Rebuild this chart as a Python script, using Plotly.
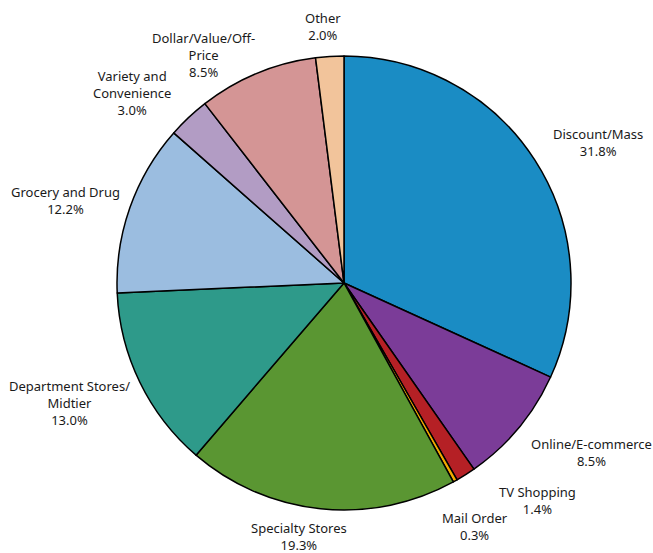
import plotly.graph_objects as go

labels = ["Discount/Mass", "Online/E-commerce", "TV Shopping", "Mail Order",
          "Specialty Stores", "Department Stores/<br>Midtier", "Grocery and Drug",
          "Variety and<br>Convenience", "Dollar/Value/Off-<br>Price", "Other"]
values = [31.8, 8.5, 1.4, 0.3, 19.3, 13.0, 12.2, 3.0, 8.5, 2.0]
colors = ["#1a8cc4", "#7b3c98", "#b52025", "#f2a900", "#5a9632",
          "#2e9a8a", "#9bbde0", "#b29cc4", "#d49595", "#f2c49b"]

# label anchor positions in pixels (x, y from top)
label_pos = [(598, 143), (591, 452), (537, 500), (475, 526), (299, 536),
             (69, 403), (65, 200), (132, 93), (203, 55), (323, 26.5)]

W, H = 653, 553
cx, cy, r = 344, 283, 227

fig = go.Figure(go.Pie(
    labels=labels, values=values, sort=False, direction="clockwise", rotation=0,
    marker=dict(colors=colors, line=dict(color="black", width=1.5)),
    textinfo="none", hoverinfo="label+percent", showlegend=False,
    domain=dict(x=[(cx - r) / W, (cx + r) / W], y=[(H - cy - r) / H, (H - cy + r) / H]),
))

for lab, val, (px, py) in zip(labels, values, label_pos):
    fig.add_annotation(text=f"{lab}<br>{val:.1f}%", x=px / W, y=1 - py / H,
                       xref="paper", yref="paper", showarrow=False,
                       xanchor="center", yanchor="middle", align="center",
                       font=dict(family="Noto Sans", size=13, color="#1a1a1a"))

fig.update_layout(width=W, height=H, margin=dict(l=0, r=0, t=0, b=0),
                  paper_bgcolor="white", plot_bgcolor="white")
fig.write_html("out.html")
